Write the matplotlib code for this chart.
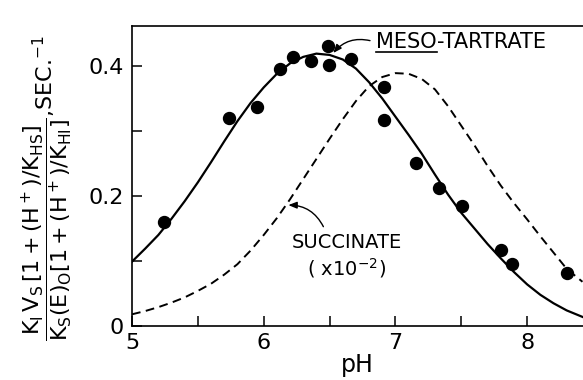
import matplotlib
matplotlib.use("Agg")
import matplotlib.pyplot as plt
from matplotlib.ticker import MultipleLocator

# Data points (meso-tartrate)
pts_ph = [5.245, 5.734, 5.952, 6.125, 6.22, 6.357, 6.49, 6.497, 6.66, 6.913, 6.913, 7.154, 7.334, 7.508, 7.80, 7.885, 8.30]
pts_val = [0.160, 0.320, 0.337, 0.395, 0.414, 0.407, 0.430, 0.402, 0.410, 0.367, 0.317, 0.251, 0.213, 0.185, 0.117, 0.095, 0.081]

# Solid curve (meso-tartrate fit)
meso_ph = [5.0, 5.1, 5.2, 5.3, 5.4, 5.5, 5.6, 5.7, 5.8, 5.9, 6.0, 6.1, 6.2, 6.3, 6.4, 6.5, 6.6, 6.7,
           6.8, 6.9, 7.0, 7.1, 7.2, 7.3, 7.4, 7.5, 7.6, 7.7, 7.8, 7.9, 8.0, 8.1, 8.2, 8.3, 8.42]
meso_val = [0.099, 0.119, 0.140, 0.165, 0.192, 0.221, 0.252, 0.284, 0.315, 0.343, 0.367, 0.388, 0.404,
            0.414, 0.419, 0.417, 0.410, 0.396, 0.375, 0.350, 0.322, 0.294, 0.265, 0.233, 0.202, 0.174,
            0.150, 0.126, 0.104, 0.083, 0.064, 0.048, 0.035, 0.024, 0.014]

# Dashed curve (succinate x10^-2)
succ_ph = [5.0, 5.1, 5.2, 5.3, 5.4, 5.5, 5.6, 5.7, 5.8, 5.9, 6.0, 6.1, 6.2, 6.3, 6.4, 6.5, 6.6, 6.7,
           6.8, 6.9, 7.0, 7.1, 7.2, 7.3, 7.4, 7.5, 7.6, 7.7, 7.8, 7.9, 8.0, 8.1, 8.2, 8.3, 8.42]
succ_val = [0.018, 0.023, 0.029, 0.036, 0.044, 0.054, 0.065, 0.079, 0.095, 0.116, 0.140, 0.166, 0.195,
            0.226, 0.257, 0.288, 0.318, 0.346, 0.369, 0.383, 0.389, 0.388, 0.380, 0.364, 0.338, 0.308,
            0.278, 0.246, 0.216, 0.189, 0.164, 0.138, 0.113, 0.088, 0.068]

xticks = [5, 6, 7, 8]
xticklabels = ["5", "6", "7", "8"]
yticks = [0, 0.2, 0.4]
yticklabels = ["0", "0.2", "0.4"]

plt.rcParams['font.family'] = ['DejaVu Sans']
plt.rcParams['mathtext.fontset'] = 'dejavusans'

fig = plt.figure(figsize=(5.83, 3.80), dpi=100)
ax = fig.add_axes([132/583, 1 - 326/380, 1 - 132/583, 300/380])

ax.plot(meso_ph, meso_val, color='black', lw=1.6, solid_joinstyle='round')
ax.plot(succ_ph, succ_val, color='black', lw=1.4, dashes=(4.5, 2.8))
ax.plot(pts_ph, pts_val, 'o', color='black', ms=8.6, clip_on=False)

ax.set_xlim(5, 8.424)
ax.set_ylim(0, 0.4615)

ax.set_xticks(xticks)
ax.set_xticklabels(xticklabels)
ax.set_yticks(yticks)
ax.set_yticklabels(yticklabels)
ax.xaxis.set_minor_locator(MultipleLocator(0.5))
ax.yaxis.set_minor_locator(MultipleLocator(0.1))
ax.tick_params(which='both', direction='in', length=7, width=1.1, labelsize=16, color='black')
ax.tick_params(axis='x', pad=5)
ax.tick_params(axis='y', pad=6)
ax.tick_params(top=False, right=False, which='both')

for s in ['left', 'bottom', 'top']:
    ax.spines[s].set_linewidth(1.2)
ax.spines['right'].set_visible(False)

ax.set_xlabel('pH', fontsize=17, labelpad=0)

fig.text(47/583, 1 - 188/380,
         r'$\dfrac{\mathrm{K_I\,V_S\,[1+(H^+)/K_{HS}]}}{\mathrm{K_S(E)_O[1+(H^+)/K_{HI}]}}$,SEC.$^{-1}$',
         rotation=90, ha='center', va='center', fontsize=16)

# Annotations
fig.canvas.draw()
r = fig.canvas.get_renderer()
t1 = ax.text(6.853, 0.4366, 'MESO', fontsize=15, ha='left', va='center')
bb = t1.get_window_extent(renderer=r)
inv = ax.transData.inverted()
x0, y0 = inv.transform((bb.x0, bb.y0))
x1, _ = inv.transform((bb.x1, bb.y0))
ax.text(x1, 0.4366, '-TARTRATE', fontsize=15, ha='left', va='center')
ax.plot([x0, x1], [y0 + 0.001, y0 + 0.001], color='black', lw=1.2, clip_on=False)
ax.annotate('', xy=(6.528, 0.420), xytext=(6.807, 0.439),
            arrowprops=dict(arrowstyle='-|>,head_length=0.5,head_width=0.2', color='black', lw=1.0,
                            connectionstyle='arc3,rad=0.3', shrinkA=0, shrinkB=0))

ax.text(6.63, 0.1285, 'SUCCINATE', fontsize=14, ha='center', va='center')
ax.text(6.625, 0.089, r'( x10$^{-2}$)', fontsize=14, ha='center', va='center')
ax.annotate('', xy=(6.187, 0.186), xytext=(6.453, 0.1528),
            arrowprops=dict(arrowstyle='-|>,head_length=0.5,head_width=0.2', color='black', lw=1.0,
                            connectionstyle='arc3,rad=0.3', shrinkA=0, shrinkB=0))

fig.savefig('out.png', dpi=100)
